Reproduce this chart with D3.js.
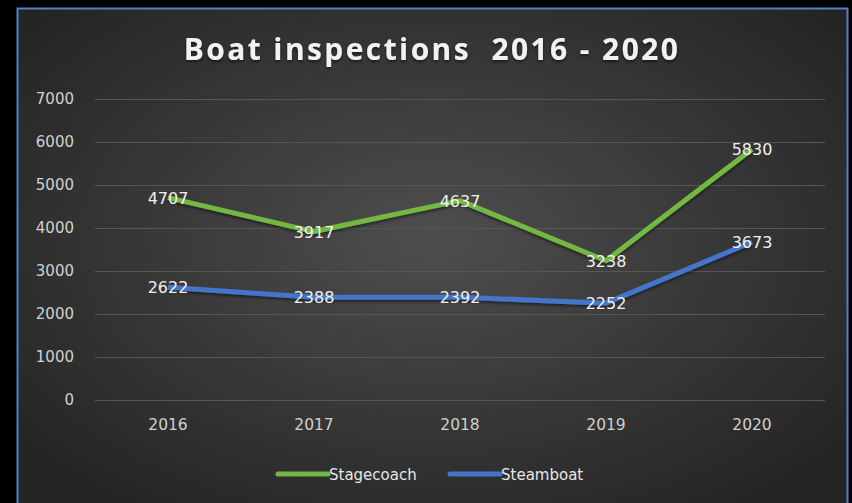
<!doctype html>
<html>
<head>
<meta charset="UTF-8">
<script src="https://d3js.org/d3.v7.min.js"></script>
<style>
body { margin: 0; background: #000; }
svg { display: block; }
text { font-family: "DejaVu Sans", sans-serif; }
</style>
</head>
<body>
<script>
// data
var years = ["2016", "2017", "2018", "2019", "2020"];
var stagecoach = [4707, 3917, 4637, 3238, 5830];
var steamboat = [2622, 2388, 2392, 2252, 3673];
var yTicks = [0, 1000, 2000, 3000, 4000, 5000, 6000, 7000];
var seriesNames = ["Stagecoach", "Steamboat"];
var seriesColors = ["#72b843", "#4474c8"];

var w = 852, h = 503;

var svg = d3.select("body").append("svg")
    .attr("width", w)
    .attr("height", h);

var defs = svg.append("defs");
var grad = defs.append("radialGradient")
    .attr("id", "bg")
    .attr("cx", "50%").attr("cy", "45%").attr("r", "65%");
grad.append("stop").attr("offset", "0%").attr("stop-color", "#4e4e4e");
grad.append("stop").attr("offset", "100%").attr("stop-color", "#242424");

var shadow = defs.append("filter").attr("id", "shadow")
    .attr("x", "-10%").attr("y", "-20%").attr("width", "120%").attr("height", "140%");
shadow.append("feDropShadow")
    .attr("dx", 0).attr("dy", 2).attr("stdDeviation", 1.5)
    .attr("flood-color", "#000").attr("flood-opacity", 0.5);

// panel with blue border
svg.append("rect")
    .attr("x", 17.5).attr("y", 8.5)
    .attr("width", 830).attr("height", 510)
    .attr("fill", "url(#bg)")
    .attr("stroke", "#4f81c7")
    .attr("stroke-width", 2);

// title
svg.append("text")
    .attr("x", 432).attr("y", 60)
    .attr("text-anchor", "middle")
    .attr("fill", "#f2f2f2")
    .attr("font-size", 30)
    .attr("font-weight", "bold")
    .attr("letter-spacing", 2.4)
    .attr("filter", "url(#shadow)")
    .style("font-family", "Open Sans, sans-serif")
    .style("white-space", "pre")
    .text("Boat inspections  2016 - 2020");

var x = d3.scaleBand().domain(years).range([95, 825]);
var y = d3.scaleLinear().domain([0, 7000]).range([400, 99]);

// gridlines
svg.append("g").selectAll("line")
    .data(yTicks).enter().append("line")
    .attr("x1", 95).attr("x2", 825)
    .attr("y1", function(d) { return Math.round(y(d)) + 0.5; })
    .attr("y2", function(d) { return Math.round(y(d)) + 0.5; })
    .attr("stroke", "#565656")
    .attr("stroke-width", 1);

// y axis labels
var yAxis = svg.append("g")
    .attr("transform", "translate(74,0)")
    .call(d3.axisLeft(y).tickValues(yTicks).tickFormat(d3.format("d")).tickSize(0).tickPadding(0));
yAxis.select(".domain").remove();
yAxis.selectAll("text")
    .attr("fill", "#d0d0d0")
    .attr("font-size", 15)
    .style("font-family", "DejaVu Sans, sans-serif");

// x axis labels
var xAxis = svg.append("g")
    .attr("transform", "translate(0,419)")
    .call(d3.axisBottom(x).tickSize(0).tickPadding(0));
xAxis.select(".domain").remove();
xAxis.selectAll("text")
    .attr("fill", "#d0d0d0")
    .attr("font-size", 15.5)
    .style("font-family", "DejaVu Sans, sans-serif");

var line = d3.line()
    .x(function(d, i) { return x(years[i]) + x.bandwidth() / 2; })
    .y(function(d) { return y(d); });

var allSeries = [stagecoach, steamboat];

allSeries.forEach(function(vals, k) {
    svg.append("path")
        .datum(vals)
        .attr("d", line)
        .attr("fill", "none")
        .attr("stroke", seriesColors[k])
        .attr("stroke-width", 5)
        .attr("stroke-linejoin", "round")
        .attr("filter", "url(#shadow)");
});

// data labels, centred on the points
allSeries.forEach(function(vals, k) {
    svg.append("g").selectAll("text")
        .data(vals).enter().append("text")
        .attr("x", function(d, i) { return x(years[i]) + x.bandwidth() / 2; })
        .attr("y", function(d) { return y(d) + 6; })
        .attr("text-anchor", "middle")
        .attr("fill", "#f0f0f0")
        .attr("font-size", 16)
        .text(function(d) { return d; });
});

// legend
var legend = svg.append("g").attr("transform", "translate(0,474)");
var legendX = [278, 450];
seriesNames.forEach(function(name, k) {
    legend.append("line")
        .attr("x1", legendX[k]).attr("x2", legendX[k] + 50)
        .attr("y1", 0).attr("y2", 0)
        .attr("stroke", seriesColors[k])
        .attr("stroke-width", 5)
        .attr("stroke-linecap", "round");
    legend.append("text")
        .attr("x", legendX[k] + 51).attr("y", 5.5)
        .attr("fill", "#e6e6e6")
        .attr("font-size", 15)
        .text(name);
});
</script>
</body>
</html>
